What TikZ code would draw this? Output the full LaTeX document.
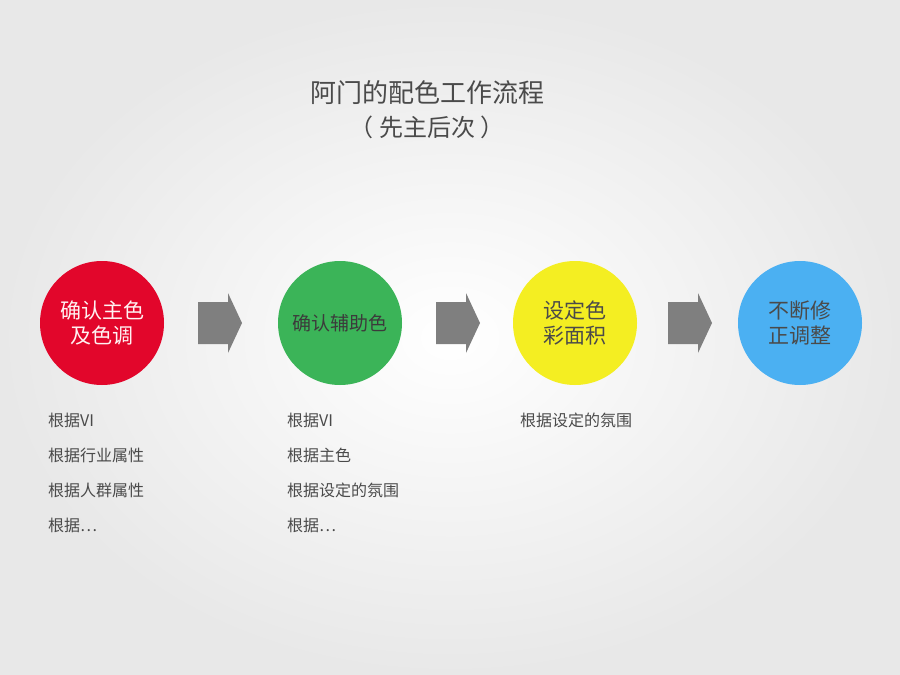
\documentclass[tikz,border=0pt]{standalone}
\usepackage{fontspec}
\newfontfamily\cjk{Noto Sans CJK SC}[Scale=1]
\definecolor{redc}{HTML}{E2062B}
\definecolor{greenc}{HTML}{3BB458}
\definecolor{yellowc}{HTML}{F4EE22}
\definecolor{bluec}{HTML}{4BB0F2}
\definecolor{arrowc}{HTML}{7F7F7F}
\definecolor{txt}{HTML}{4A4A4A}
\tikzset{
  stage/.style={circle, minimum size=124pt, inner sep=0pt, align=center, font=\cjk\fontsize{21}{25}\selectfont, text=txt},
  item/.style={anchor=west, font=\cjk\fontsize{16}{18}\selectfont, text=txt, inner sep=0pt}
}
\newcommand{\nextarrow}[1]{\fill[arrowc] ([shift={(-22,-21)}]#1) -- ++(30,0) -- ++(0,-9) -- ++(14,30) -- ++(-14,30) -- ++(0,-9) -- ++(-30,0) -- cycle;}
\begin{document}
\begin{tikzpicture}[x=1pt,y=-1pt]
\useasboundingbox (0,0) rectangle (900,675);
\shade[inner color=white, outer color=gray!18] (0,0) rectangle (900,675);
% title
\node[font=\cjk\fontsize{26}{30}\selectfont, text=txt] (title) at (427,93) {阿门的配色工作流程};
\node[font=\cjk\fontsize{24}{28}\selectfont, text=txt] (subtitle) at (427,127) {（ 先主后次 ）};
% stages
\node[stage, fill=redc, text=white!95!red] (s1) at (102,323) {确认主色\\及色调};
\node[stage, fill=greenc, font=\cjk\fontsize{19}{23}\selectfont, text=txt!80!black] (s2) at (340,323) {确认辅助色};
\node[stage, fill=yellowc] (s3) at (575,323) {设定色\\彩面积};
\node[stage, fill=bluec] (s4) at (800,323) {不断修\\正调整};
\coordinate (a1) at (220,323);
\coordinate (a2) at (458,323);
\coordinate (a3) at (690,323);
\nextarrow{a1}\nextarrow{a2}\nextarrow{a3}
% notes
\foreach \t [count=\i] in {根据VI, 根据行业属性, 根据人群属性, 根据…}
{\node[item] (n1\i) at (48,385+35*\i) {\t};}
\foreach \t [count=\i] in {根据VI, 根据主色, 根据设定的氛围, 根据…}
{\node[item] (n2\i) at (287,385+35*\i) {\t};}
\node[item] (n31) at (520,420) {根据设定的氛围};
\end{tikzpicture}
\end{document}
